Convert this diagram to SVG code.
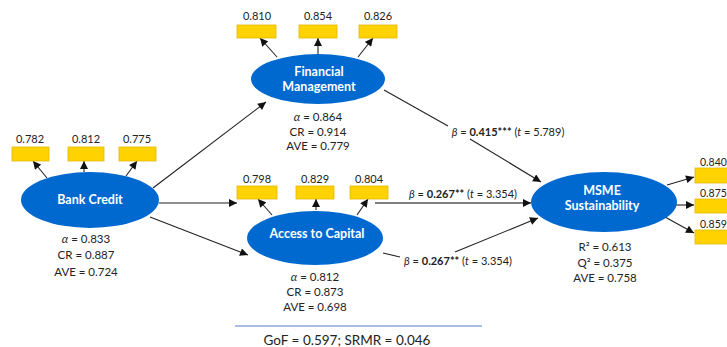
<svg xmlns="http://www.w3.org/2000/svg" width="727" height="347" viewBox="0 0 727 347">
<style>
.lat{fill:#0069CF;}
.lt{font-family:Lato,"Open Sans","Liberation Sans",sans-serif;font-weight:bold;font-size:12.5px;fill:#fff;text-anchor:middle;}
.box{fill:#FFD200;stroke:#E0B800;stroke-width:0.8;}
.bl{font-family:Lato,"Open Sans","Liberation Sans",sans-serif;font-size:11px;fill:#222;text-anchor:middle;}
.br{font-family:Lato,"Open Sans","Liberation Sans",sans-serif;font-size:10.5px;fill:#222;text-anchor:start;}
.st{font-family:Lato,"Open Sans","Liberation Sans",sans-serif;font-size:11.5px;fill:#222;text-anchor:middle;}
.pl{font-family:Lato,"Open Sans","Liberation Sans",sans-serif;font-size:11px;fill:#222;text-anchor:middle;}
.it{font-style:italic;}
.b{font-weight:bold;}
.ln{stroke:#222;stroke-width:1.1;fill:none;}
.lg{stroke:#555;stroke-width:1.6;fill:none;}
</style>
<defs>
<marker id="ah" viewBox="0 0 10 10" refX="10" refY="5" markerWidth="9" markerHeight="8" orient="auto" markerUnits="userSpaceOnUse">
<path d="M0,0 L10,5 L0,10 z" fill="#111"/>
</marker>
</defs>
<rect width="727" height="347" fill="#fff"/>

<g id="connectors">
<line class="ln" x1="47" y1="178" x2="33" y2="161" marker-end="url(#ah)"/>
<line class="ln" x1="84" y1="172" x2="84" y2="161" marker-end="url(#ah)"/>
<line class="ln" x1="126" y1="176" x2="137" y2="161" marker-end="url(#ah)"/>
<line class="ln" x1="277" y1="57" x2="260" y2="38" marker-end="url(#ah)"/>
<line class="ln" x1="318" y1="54" x2="318" y2="38" marker-end="url(#ah)"/>
<line class="ln" x1="358" y1="57" x2="373" y2="38" marker-end="url(#ah)"/>
<line class="ln" x1="272" y1="215" x2="258" y2="199" marker-end="url(#ah)"/>
<line class="ln" x1="316" y1="210" x2="316" y2="199" marker-end="url(#ah)"/>
<line class="ln" x1="357" y1="215" x2="368" y2="199" marker-end="url(#ah)"/>
<line class="ln" x1="667" y1="185" x2="694" y2="177" marker-end="url(#ah)"/>
<line class="ln" x1="676" y1="205" x2="694" y2="205" marker-end="url(#ah)"/>
<line class="ln" x1="665" y1="217" x2="694" y2="233" marker-end="url(#ah)"/>
<line class="ln" x1="153" y1="188" x2="266" y2="102" marker-end="url(#ah)"/>
<line class="ln" x1="159" y1="203" x2="237" y2="203" marker-end="url(#ah)"/>
<line class="ln" x1="150" y1="217" x2="248" y2="255" marker-end="url(#ah)"/>
<line class="ln" x1="384" y1="90" x2="448" y2="126"/>
<line class="ln" x1="470" y1="139" x2="541" y2="182" marker-end="url(#ah)"/>
<line class="lg" x1="375" y1="203" x2="531" y2="203" marker-end="url(#ah)"/>
<line class="ln" x1="383" y1="253" x2="400" y2="257"/>
<line class="ln" x1="455" y1="252" x2="538" y2="218" marker-end="url(#ah)"/>
<text class="pl" x="508" y="136"><tspan class="it">β</tspan> = <tspan class="b">0.415***</tspan> (<tspan class="it">t</tspan> = 5.789)</text>
<text class="pl" x="463" y="198"><tspan class="it">β</tspan> = <tspan class="b">0.267**</tspan> (<tspan class="it">t</tspan> = 3.354)</text>
<text class="pl" x="458" y="265"><tspan class="it">β</tspan> = <tspan class="b">0.267**</tspan> (<tspan class="it">t</tspan> = 3.354)</text>
</g>

<g id="bank-credit">
<ellipse class="lat" cx="90" cy="200" rx="69" ry="28"/>
<text class="lt" x="90" y="204">Bank Credit</text>
<text class="st" x="86" y="243"><tspan class="it">α</tspan> = 0.833</text>
<text class="st" x="86" y="259">CR = 0.887</text>
<text class="st" x="86" y="276">AVE = 0.724</text>
</g>
<g id="bc-ind1"><rect class="box" x="12" y="147" width="37" height="14"/><text class="bl" x="30" y="143">0.782</text></g>
<g id="bc-ind2"><rect class="box" x="68" y="147" width="36" height="14"/><text class="bl" x="86" y="143">0.812</text></g>
<g id="bc-ind3"><rect class="box" x="119" y="147" width="37" height="14"/><text class="bl" x="137" y="143">0.775</text></g>

<g id="financial-management">
<ellipse class="lat" cx="318" cy="79" rx="67" ry="25"/>
<text class="lt" x="319" y="76">Financial</text>
<text class="lt" x="319" y="91">Management</text>
<text class="st" x="318" y="121"><tspan class="it">α</tspan> = 0.864</text>
<text class="st" x="318" y="136">CR = 0.914</text>
<text class="st" x="318" y="150">AVE = 0.779</text>
</g>
<g id="fm-ind1"><rect class="box" x="237" y="25" width="39" height="13"/><text class="bl" x="257" y="20">0.810</text></g>
<g id="fm-ind2"><rect class="box" x="299" y="25" width="38" height="13"/><text class="bl" x="318" y="20">0.854</text></g>
<g id="fm-ind3"><rect class="box" x="359" y="25" width="38" height="13"/><text class="bl" x="378" y="20">0.826</text></g>

<g id="access-to-capital">
<ellipse class="lat" cx="315" cy="238" rx="68" ry="27"/>
<text class="lt" x="317" y="238">Access to Capital</text>
<text class="st" x="315" y="281"><tspan class="it">α</tspan> = 0.812</text>
<text class="st" x="315" y="296">CR = 0.873</text>
<text class="st" x="315" y="311">AVE = 0.698</text>
</g>
<g id="atc-ind1"><rect class="box" x="237" y="186" width="40" height="13"/><text class="bl" x="257" y="183">0.798</text></g>
<g id="atc-ind2"><rect class="box" x="296" y="186" width="38" height="13"/><text class="bl" x="315" y="183">0.829</text></g>
<g id="atc-ind3"><rect class="box" x="350" y="186" width="38" height="13"/><text class="bl" x="369" y="183">0.804</text></g>

<g id="msme-sustainability">
<ellipse class="lat" cx="604" cy="202" rx="73" ry="30"/>
<text class="lt" x="602" y="195">MSME</text>
<text class="lt" x="602" y="210">Sustainability</text>
<text class="st" x="605" y="251">R² = 0.613</text>
<text class="st" x="605" y="267">Q² = 0.375</text>
<text class="st" x="605" y="282">AVE = 0.758</text>
</g>
<g id="ms-ind1"><rect class="box" x="695" y="168" width="45" height="15"/><text class="br" x="700" y="166">0.840</text></g>
<g id="ms-ind2"><rect class="box" x="695" y="199" width="45" height="14"/><text class="br" x="700" y="197">0.875</text></g>
<g id="ms-ind3"><rect class="box" x="695" y="230" width="45" height="14"/><text class="br" x="700" y="228">0.859</text></g>

<g id="fit-summary">
<line x1="235" y1="326" x2="482" y2="326" stroke="#8FAADC" stroke-width="1.5"/>
<text x="347" y="345" style="font-family:Lato,'Open Sans','Liberation Sans',sans-serif;font-size:13.5px;fill:#222;text-anchor:middle">GoF = 0.597; SRMR = 0.046</text>
</g>
</svg>
